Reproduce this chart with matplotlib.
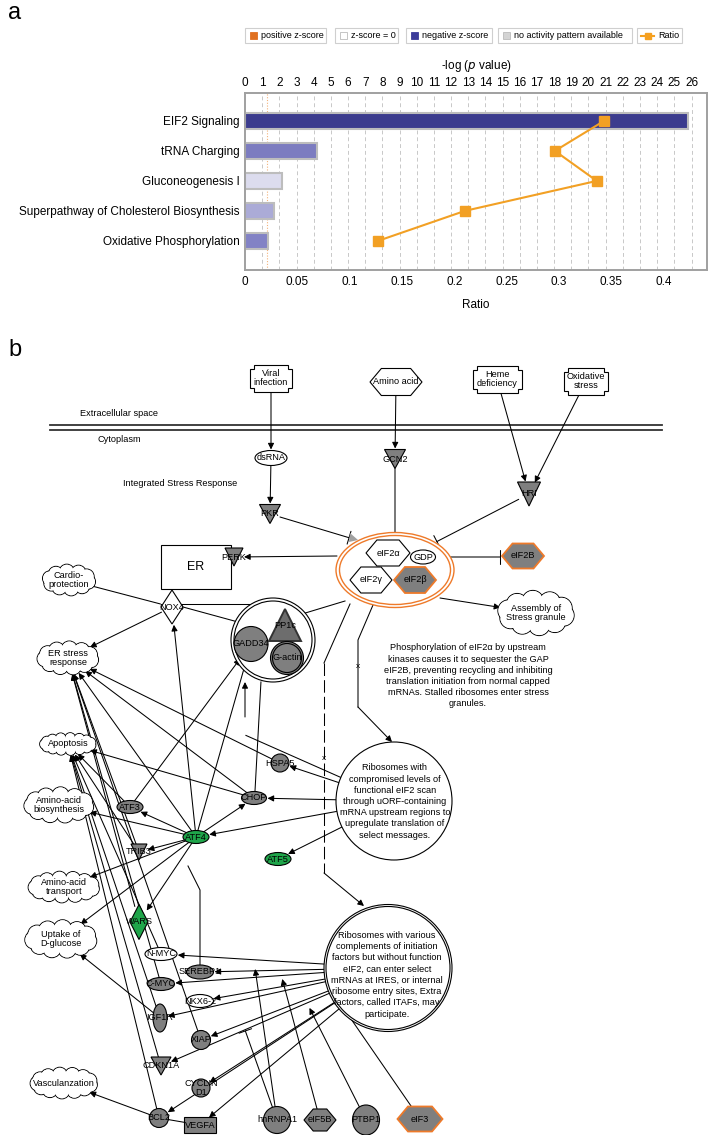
import numpy as np
import matplotlib
matplotlib.use("Agg")
import matplotlib.pyplot as plt
from matplotlib.patches import Polygon, Ellipse, Circle, Rectangle

plt.rcParams['font.family'] = ['Liberation Sans', 'DejaVu Sans']

# ---------------- panel a data ----------------
pathways = ["EIF2 Signaling", "tRNA Charging", "Gluconeogenesis I",
            "Superpathway of Cholesterol Biosynthesis", "Oxidative Phosphorylation"]
neg_log_p = [25.8, 4.2, 2.15, 1.7, 1.35]
ratio = [0.343, 0.296, 0.336, 0.210, 0.127]
bar_colors = ["#3c3c8e", "#7c7cc0", "#dcdcee", "#ababd7", "#8282c5"]
top_ticks = list(range(0, 27))
ratio_ticks = [0, 0.05, 0.1, 0.15, 0.2, 0.25, 0.3, 0.35, 0.4]
ratio_tick_labels = ["0", "0.05", "0.1", "0.15", "0.2", "0.25", "0.3", "0.35", "0.4"]
threshold = 1.3

legend_items = ["positive z-score", "z-score = 0", "negative z-score",
                "no activity pattern available", "Ratio"]
legend_colors = ["#e07020", "#ffffff", "#3c3c9a", "#d4d4d4", "#f5a020"]

# ---------------- panel b data ----------------
# name: (label, x, y, shape, w, h, face, edge)
GRAY = "#7f7f7f"
GREEN = "#1fa54a"
ORANGE = "#ee7a2a"
nodes = {
    "viral": ("Viral\ninfection", 271, 378, "plus", 42, 27, "white", "k"),
    "aa": ("Amino acid", 396, 382, "hex", 52, 27, "white", "k"),
    "heme": ("Heme\ndeficiency", 497, 379, "plus", 49, 27, "white", "k"),
    "oxi": ("Oxidative\nstress", 586, 381, "plus", 44, 27, "white", "k"),
    "dsrna": ("dsRNA", 271, 458, "ellipse", 32, 15, "white", "k"),
    "gcn2": ("GCN2", 395, 459, "tri_down", 21, 19, GRAY, "k"),
    "hri": ("HRI", 529, 494, "tri_down", 23, 24, GRAY, "k"),
    "pkr": ("PKR", 270, 514, "tri_down", 21, 19, GRAY, "k"),
    "eif2a": ("eIF2\u03b1", 388, 553, "hex", 44, 26, "white", "k"),
    "gdp": ("GDP", 423, 557, "ellipse", 25, 14, "white", "k"),
    "eif2g": ("eIF2\u03b3", 371, 580, "hex", 42, 26, "white", "k"),
    "eif2bb": ("eIF2\u03b2", 415, 580, "hex", 42, 26, GRAY, ORANGE),
    "eif2B": ("eIF2B", 523, 556, "hex", 42, 25, GRAY, ORANGE),
    "er": ("ER", 196, 567, "rect", 70, 44, "white", "k"),
    "perk": ("PERK", 234, 557, "tri_down", 18, 18, GRAY, "k"),
    "cardio": ("Cardio-\nprotection", 69, 580, "cloud", 50, 28, "white", "k"),
    "nox4": ("NOX4", 172, 607, "diamond", 22, 34, "white", "k"),
    "assembly": ("Assembly of\nStress granule", 536, 613, "cloud", 72, 40, "white", "k"),
    "gadd34": ("GADD34", 251, 644, "circle", 34, 35, GRAY, "k"),
    "pp1c": ("PP1c", 285, 625, "tri_up", 32, 32, "#6d6d6d", "#333333"),
    "gactin": ("G-actin", 287, 658, "circle2", 33, 33, GRAY, "k"),
    "erstress": ("ER stress\nresponse", 68, 658, "cloud", 58, 30, "white", "k"),
    "hspa5": ("HSPA5", 280, 763, "circle", 18, 18, GRAY, "k"),
    "apoptosis": ("Apoptosis", 68, 744, "cloud", 54, 20, "white", "k"),
    "aabio": ("Amino-acid\nbiosynthesis", 59, 805, "cloud", 66, 32, "white", "k"),
    "chop": ("CHOP", 254, 798, "ellipse", 25, 13, GRAY, "k"),
    "atf3": ("ATF3", 130, 807, "ellipse", 26, 13, GRAY, "k"),
    "atf4": ("ATF4", 196, 837, "ellipse", 26, 13, GREEN, "k"),
    "trib3": ("TRIB3", 139, 852, "tri_down", 16, 16, GRAY, "k"),
    "atf5": ("ATF5", 278, 859, "ellipse", 26, 13, GREEN, "k"),
    "aatrans": ("Amino-acid\ntransport", 64, 887, "cloud", 68, 28, "white", "k"),
    "uptake": ("Uptake of\nD-glucose", 61, 939, "cloud", 68, 34, "white", "k"),
    "wars": ("WARS", 139, 922, "diamond", 18, 35, GREEN, "k"),
    "nmyc": ("N-MYC", 161, 954, "ellipse", 32, 13, "white", "k"),
    "serebp1": ("SEREBP1", 200, 972, "ellipse", 27, 14, GRAY, "k"),
    "cmyc": ("C-MYC", 161, 984, "ellipse", 27, 13, GRAY, "k"),
    "nkx62": ("NKX6-2", 200, 1001, "ellipse", 27, 13, "white", "k"),
    "igf1r": ("IGF1R", 160, 1018, "ellipse", 14, 28, GRAY, "k"),
    "xiap": ("XIAP", 201, 1040, "circle", 19, 19, GRAY, "k"),
    "cdkn1a": ("CDKN1A", 161, 1066, "tri_down", 20, 18, GRAY, "k"),
    "cyclin": ("CYCLIN\nD1", 201, 1088, "circle", 18, 18, GRAY, "k"),
    "vasc": ("Vasculanzation", 64, 1083, "cloud", 64, 28, "white", "k"),
    "bcl2": ("BCL2", 159, 1118, "circle", 19, 19, GRAY, "k"),
    "vegfa": ("VEGFA", 200, 1125, "rect", 32, 16, GRAY, "k"),
    "hnrnpa1": ("hnRNPA1", 277, 1120, "circle", 27, 27, GRAY, "k"),
    "eif5b": ("eIF5B", 320, 1120, "hex", 32, 22, GRAY, "k"),
    "ptbp1": ("PTBP1", 366, 1120, "ellipse", 27, 30, GRAY, "k"),
    "eif3": ("eIF3", 420, 1119, "hex", 45, 25, GRAY, ORANGE),
    "ribo1": ("", 394, 801, "ellipse", 116, 118, "white", "k"),
    "ribo2": ("", 388, 968, "ellipse", 124, 123, "white", "k"),
}

# anchor points on edges / complexes (no shape)
points = {
    "c_pkr": (350, 538), "c_gcn2": (395, 534), "c_hri": (436, 542),
    "c_gdp": (436, 557), "eif2B_in": (501, 557), "c_left": (337, 556),
    "c_br": (440, 598), "c_bl": (345, 601), "gc_tr": (302, 614),
    "nox_r": (183, 607), "gc_l": (238, 622), "nox_t": (180, 604), "pp_t": (282, 604),
    "up_a": (245, 717), "up_b": (245, 681), "r1_line": (245, 735),
    "chop_t": (255, 791), "gc_b": (261, 681),
    "hn_a": (255, 968), "hn_t": (245, 1030), "e5_a": (282, 978),
    "pt_a": (309, 1007), "e3_a": (340, 1003),
}

arrows = [("viral", "dsrna"), ("aa", "gcn2"), ("heme", "hri"), ("oxi", "hri"),
          ("dsrna", "pkr"), ("c_left", "perk"), ("c_br", "assembly"),
          ("nox4", "erstress"), ("atf4", "nox4"), ("atf4", "gadd34"), ("atf3", "gadd34"),
          ("up_a", "up_b"), ("hspa5", "erstress"), ("chop", "apoptosis"),
          ("chop", "erstress"),
          ("ribo1", "hspa5"), ("ribo1", "chop"), ("ribo1", "atf4"), ("ribo1", "atf5"),
          ("atf4", "atf3"), ("atf4", "trib3"), ("atf4", "chop"), ("atf4", "aabio"),
          ("atf4", "aatrans"), ("atf4", "uptake"), ("atf4", "wars"),
          ("atf4", "erstress"), ("trib3", "erstress"), ("wars", "erstress"),
          ("cmyc", "erstress"), ("xiap", "erstress"),
          ("bcl2", "apoptosis"), ("igf1r", "apoptosis"), ("cdkn1a", "apoptosis"),
          ("nmyc", "apoptosis"), ("trib3", "apoptosis"), ("atf3", "apoptosis"),
          ("ribo2", "nmyc"), ("ribo2", "serebp1"), ("ribo2", "cmyc"), ("ribo2", "nkx62"),
          ("ribo2", "igf1r"), ("ribo2", "xiap"), ("ribo2", "cdkn1a"), ("ribo2", "cyclin"),
          ("ribo2", "bcl2"), ("ribo2", "vegfa"),
          ("hnrnpa1", "hn_a"), ("eif5b", "e5_a"), ("ptbp1", "pt_a"), ("eif3", "e3_a"),
          ("bcl2", "vasc"), ("igf1r", "uptake")]
inhibits = [("pkr", "c_pkr"), ("gcn2", "c_gcn2"), ("hri", "c_hri"),
            ("c_gdp", "eif2B_in"), ("hnrnpa1", "hn_t")]
plain = [("c_bl", "gc_tr"), ("cardio", "nox4"), ("nox_r", "gc_l"), ("nox_t", "pp_t"),
         ("chop_t", "gc_b"), ("ribo1", "r1_line"), ("bcl2", "vegfa")]

ribo1_text = ["Ribosomes with", "compromised levels of", "functional eIF2 scan",
              "through uORF-containing", "mRNA upstream regions to",
              "upregulate translation of", "select messages."]
ribo2_text = ["Ribosomes with various", "complements of initiation",
              "factors but without function", "eIF2, can enter select",
              "mRNAs at IRES, or internal", "ribosome entry sites, Extra",
              "factors, called ITAFs, may", "participate."]
phos_text = ["Phosphorylation of eIF2\u03b1 by upstream",
             "kinases causes it to sequester the GAP",
             "eIF2B, preventing recycling and inhibiting",
             "translation initiation from normal capped",
             "mRNAs. Stalled ribosomes enter stress", "granules."]

# ================= figure =================
fig = plt.figure(figsize=(7.09, 11.35), dpi=100)
W, H = 709, 1135

# ---------- panel a ----------
ax = fig.add_axes([245 / W, 1 - 270 / H, 462 / W, 177 / H])
ax_top = ax.twiny()
ypos = np.arange(len(pathways))
ax_top.barh(ypos, neg_log_p, height=0.53, color=bar_colors, edgecolor="#bdbdbd",
            linewidth=1.5, zorder=3)
ax_top.set_xlim(0, 26.9)
ax_top.set_xticks(top_ticks)
ax_top.set_xticklabels([str(t) for t in top_ticks], fontsize=8.5)
for t in top_ticks[1:]:
    ax_top.axvline(t, color="#c8c8c8", lw=0.7, ls=(0, (4, 3)), zorder=1)
ax_top.axvline(threshold, color="#f3b27a", lw=0.8, ls=(0, (1, 1.5)), zorder=2)
ax_top.set_xlabel("-log ($p$ value)", fontsize=8.5, labelpad=6)
ax_top.tick_params(axis="x", length=0, pad=3)

ax.plot(ratio, ypos, color="#f2a024", lw=1.5, marker="s", markersize=6.5, zorder=5)
ax.set_zorder(ax_top.get_zorder() + 1)
ax.patch.set_visible(False)
ax.set_xlim(0, 0.4413)
ax.set_ylim(4.97, -0.93)
ax.set_xticks(ratio_ticks)
ax.set_xticklabels(ratio_tick_labels, fontsize=8.5)
ax.set_yticks(ypos)
ax.set_yticklabels(pathways, fontsize=8.5)
ax.tick_params(length=0, pad=4)
ax.set_xlabel("Ratio", fontsize=8.5, labelpad=8)
for a_ in (ax, ax_top):
    for s in a_.spines.values():
        s.set_color("#a0a0a0")
        s.set_linewidth(1.2)

# ---------- overlay for legend and panel b ----------
ov = fig.add_axes([0, 0, 1, 1])
ov.set_xlim(0, W)
ov.set_ylim(H, 0)
ov.axis("off")

ov.text(8, 2, "a", fontsize=17, va="top", ha="left")
ov.text(8, 356, "b", fontsize=17, va="baseline", ha="left")

# legend boxes
leg_x = [245, 335, 406, 498, 637]
leg_w = [81, 63, 86, 134, 45]
for i, lab in enumerate(legend_items):
    x0 = leg_x[i]
    ov.add_patch(Rectangle((x0, 28), leg_w[i], 15, fc="white", ec="#cfcfcf", lw=0.8))
    if lab == "Ratio":
        ov.plot([x0 + 4, x0 + 17], [35.5, 35.5], color=legend_colors[i], lw=1.5)
        ov.plot([x0 + 10.5], [35.5], marker="s", color=legend_colors[i], ms=4)
        ov.text(x0 + 21, 36, lab, fontsize=6.5, va="center")
    else:
        ov.add_patch(Rectangle((x0 + 5, 31.5), 7, 7, fc=legend_colors[i],
                               ec="#bbbbbb" if i in (1, 3) else legend_colors[i], lw=0.6))
        ov.text(x0 + 16, 36, lab, fontsize=6.5, va="center")


# ---------- panel b helpers ----------
def hex_pts(x, y, w, h):
    d = h * 0.42
    return [(x - w / 2, y), (x - w / 2 + d, y - h / 2), (x + w / 2 - d, y - h / 2),
            (x + w / 2, y), (x + w / 2 - d, y + h / 2), (x - w / 2 + d, y + h / 2)]


def plus_pts(x, y, w, h):
    n = 4
    l, r, t, b = x - w / 2, x + w / 2, y - h / 2, y + h / 2
    return [(l + n, t), (r - n, t), (r - n, t + n), (r, t + n), (r, b - n), (r - n, b - n),
            (r - n, b), (l + n, b), (l + n, b - n), (l, b - n), (l, t + n), (l + n, t + n)]


def cloud(x, y, w, h, z=4):
    r = min(w, h) * 0.27
    a, b = w / 2 - r * 0.75, h / 2 - r * 0.75
    n = max(8, int(np.pi * (a + b) / (r * 1.1)))
    ts = np.linspace(0, 2 * np.pi, n, endpoint=False) + 0.2
    for t in ts:
        ov.add_patch(Circle((x + a * np.cos(t), y + b * np.sin(t)), r, fc="white",
                            ec="k", lw=0.7, zorder=z))
    for t in ts:
        ov.add_patch(Circle((x + a * np.cos(t), y + b * np.sin(t)), r - 0.6, fc="white",
                            ec="none", zorder=z + 0.1))
    ov.add_patch(Ellipse((x, y), 2 * a, 2 * b, fc="white", ec="none", zorder=z + 0.2))


def draw_node(key):
    lab, x, y, shape, w, h, fc, ec = nodes[key]
    lw = 1.3 if ec == ORANGE else 0.8
    z = 4
    if shape == "hex":
        ov.add_patch(Polygon(hex_pts(x, y, w, h), fc=fc, ec=ec, lw=lw, zorder=z))
    elif shape == "plus":
        ov.add_patch(Polygon(plus_pts(x, y, w, h), fc=fc, ec=ec, lw=lw, zorder=z))
    elif shape == "ellipse":
        ov.add_patch(Ellipse((x, y), w, h, fc=fc, ec=ec, lw=lw, zorder=z))
    elif shape in ("circle", "circle2"):
        ov.add_patch(Ellipse((x, y), w, h, fc=fc, ec=ec, lw=lw, zorder=z))
        if shape == "circle2":
            ov.add_patch(Ellipse((x, y), w - 4, h - 4, fc="none", ec=ec, lw=lw, zorder=z))
    elif shape == "tri_down":
        ov.add_patch(Polygon([(x - w / 2, y - h / 2), (x + w / 2, y - h / 2), (x, y + h / 2)],
                             fc=fc, ec=ec, lw=lw, zorder=z))
    elif shape == "tri_up":
        ov.add_patch(Polygon([(x - w / 2, y + h / 2), (x + w / 2, y + h / 2), (x, y - h / 2)],
                             fc=fc, ec=ec, lw=1.4, zorder=z))
    elif shape == "diamond":
        ov.add_patch(Polygon([(x, y - h / 2), (x + w / 2, y), (x, y + h / 2), (x - w / 2, y)],
                             fc=fc, ec=ec, lw=lw, zorder=z))
    elif shape == "rect":
        ov.add_patch(Rectangle((x - w / 2, y - h / 2), w, h, fc=fc, ec=ec, lw=lw, zorder=z))
    elif shape == "cloud":
        cloud(x, y, w, h)
    fs = 9 if key == "er" else 6.6
    if lab:
        ov.text(x, y, lab, fontsize=fs, ha="center", va="center", zorder=6,
                linespacing=1.05)


def pos(key):
    if key in points:
        return np.array(points[key], float), 0.0, 0.0
    n = nodes[key]
    return np.array([n[1], n[2]], float), n[4] / 2, n[5] / 2


def ends(src, dst):
    p0, a0, b0 = pos(src)
    p1, a1, b1 = pos(dst)
    d = p1 - p0
    L = np.hypot(*d)
    u = d / L

    def rad(a, b):
        if a == 0:
            return 0.0
        return 1.0 / np.sqrt((u[0] / a) ** 2 + (u[1] / b) ** 2)
    return p0 + u * rad(a0, b0), p1 - u * (rad(a1, b1) + 1)


# compartments / membrane
ov.plot([50, 662], [425, 425], color="#333333", lw=1.3)
ov.plot([50, 662], [429.5, 429.5], color="#333333", lw=1.3)
ov.text(80, 413, "Extracellular space", fontsize=6.6, va="center")
ov.text(98, 440, "Cytoplasm", fontsize=6.6, va="center")
ov.text(123, 484, "Integrated Stress Response", fontsize=6.6, va="center")

# complexes
ov.add_patch(Ellipse((395, 570), 118, 75, fc="white", ec=ORANGE, lw=1.0, zorder=3))
ov.add_patch(Ellipse((395, 570), 111, 69, fc="white", ec=ORANGE, lw=1.0, zorder=3))
ov.add_patch(Circle((273, 640), 42, fc="white", ec="k", lw=0.8, zorder=3))
ov.add_patch(Circle((273, 640), 39, fc="white", ec="k", lw=0.8, zorder=3))
ov.add_patch(Ellipse((388, 968), 128, 127, fc="white", ec="k", lw=0.8, zorder=3.5))

for k in nodes:
    draw_node(k)

# edges
for s, d in arrows:
    p0, p1 = ends(s, d)
    ov.annotate("", xy=p1, xytext=p0, zorder=2,
                arrowprops=dict(arrowstyle="-|>", color="k", lw=0.75, mutation_scale=9,
                                shrinkA=0, shrinkB=0))
for s, d in inhibits:
    p0, p1 = ends(s, d)
    ov.annotate("", xy=p1, xytext=p0, zorder=2,
                arrowprops=dict(arrowstyle="-[, widthB=1.2, lengthB=0", color="k",
                                lw=0.75, mutation_scale=4, shrinkA=0, shrinkB=0))
for s, d in plain:
    p0, p1 = ends(s, d)
    ov.plot([p0[0], p1[0]], [p0[1], p1[1]], color="k", lw=0.75, zorder=2)

# small gray marker at PKR inhibition
ov.add_patch(Polygon([(350, 533), (358, 540), (349, 542)], fc="#a0a0a0", ec="none", zorder=2))

# eIF2 complex -> ribosome routes
route1_x = [373, 358, 358]
route1_y = [605, 640, 707]
ov.plot(route1_x, route1_y, color="k", lw=0.75, zorder=2)
ov.annotate("", xy=(392, 742), xytext=(358, 707), zorder=2,
            arrowprops=dict(arrowstyle="-|>", color="k", lw=0.75, mutation_scale=9,
                            shrinkA=0, shrinkB=0))
ov.text(358, 667, "x", fontsize=6, ha="center", va="center")
ov.plot([350, 324], [604, 663], color="k", lw=0.75, zorder=2)
ov.plot([324, 324], [663, 873], color="k", lw=0.75, ls=(0, (12, 4)), zorder=2)
ov.text(324, 758, "x", fontsize=6, ha="center", va="center")
ov.annotate("", xy=(364, 906), xytext=(324, 873), zorder=2,
            arrowprops=dict(arrowstyle="-|>", color="k", lw=0.75, mutation_scale=9,
                            shrinkA=0, shrinkB=0))
ov.plot([200, 200, 188], [965, 890, 866], color="k", lw=0.75, zorder=2)

# text blocks
for i, t in enumerate(phos_text):
    ov.text(468, 648 + i * 11.2, t, fontsize=6.6, ha="center", va="center")
for i, t in enumerate(ribo1_text):
    ov.text(395, 768 + i * 11.2, t, fontsize=6.6, ha="center", va="center", zorder=6)
for i, t in enumerate(ribo2_text):
    ov.text(387, 935 + i * 11.3, t, fontsize=6.6, ha="center", va="center", zorder=6)

fig.savefig("out.png", dpi=100)
